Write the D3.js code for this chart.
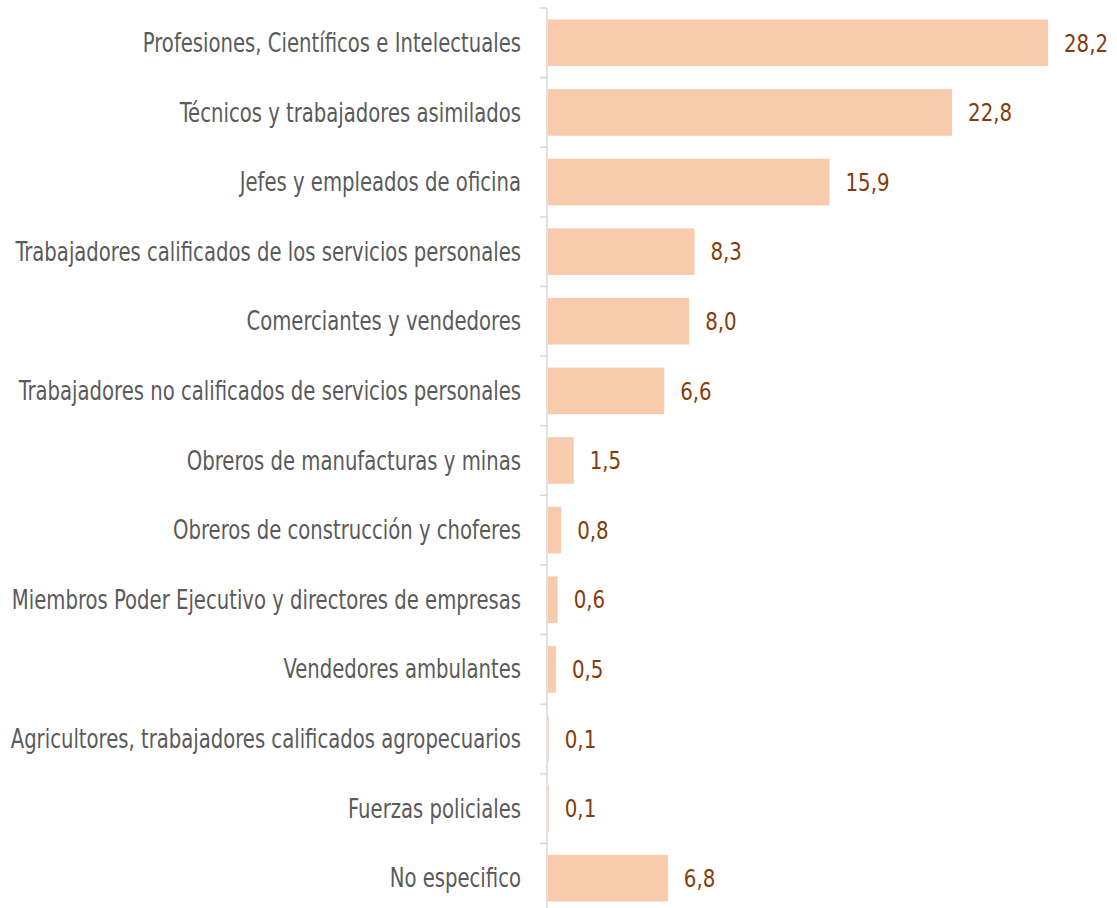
<!DOCTYPE html>
<html>
<head>
<meta charset="utf-8">
<script src="https://cdn.jsdelivr.net/npm/d3@7"></script>
<style>
  body { margin: 0; background: #fff; }
  text { font-family: "Liberation Sans Narrow", "DejaVu Sans Condensed", "Roboto", sans-serif; }
</style>
</head>
<body>
<svg id="chart" width="1117" height="908"></svg>
<script>
const categories = [
    "Profesiones, Científicos e Intelectuales",
    "Técnicos y trabajadores asimilados",
    "Jefes y empleados de oficina",
    "Trabajadores calificados de los servicios personales",
    "Comerciantes y vendedores",
    "Trabajadores no calificados de servicios personales",
    "Obreros de manufacturas y minas",
    "Obreros de construcción y choferes",
    "Miembros Poder Ejecutivo y directores de empresas",
    "Vendedores ambulantes",
    "Agricultores, trabajadores calificados agropecuarios",
    "Fuerzas policiales",
    "No especifico"
];
const values = [28.2, 22.8, 15.9, 8.3, 8.0, 6.6, 1.5, 0.8, 0.6, 0.5, 0.1, 0.1, 6.8];
const valueLabels = ["28,2", "22,8", "15,9", "8,3", "8,0", "6,6", "1,5", "0,8", "0,6", "0,5", "0,1", "0,1", "6,8"];

const svg = d3.select('#chart');
const W = 1117, H = 908;
const margin = {top: 8, left: 547, right: 69};

const y = d3.scaleBand()
    .domain(categories)
    .range([margin.top, 913])
    .paddingInner(0.33)
    .paddingOuter(0.165);

const x = d3.scaleLinear()
    .domain([0, 28.2])
    .range([margin.left, W - margin.right]);

// category boundaries for the small tick marks
const step = y.step();
const bounds = d3.range(categories.length + 1).map(i => margin.top + i * step);

const axis = svg.append('g').attr('class', 'axis');
axis.append('line')
    .attr('x1', margin.left).attr('x2', margin.left)
    .attr('y1', margin.top).attr('y2', H)
    .style('stroke', '#d9d9d9')
    .style('stroke-width', 1.5);
axis.selectAll('line.tick').data(bounds)
    .join('line')
    .attr('class', 'tick')
    .attr('x1', margin.left - 7).attr('x2', margin.left)
    .attr('y1', d => d).attr('y2', d => d)
    .style('stroke', '#d9d9d9')
    .style('stroke-width', 1.5);

svg.append('g').selectAll('rect')
    .data(values)
    .join('rect')
    .attr('x', x(0) + 1)
    .attr('y', (d, i) => y(categories[i]))
    .attr('height', y.bandwidth())
    .attr('width', d => Math.max(0, x(d) - x(0) - 1))
    .attr('fill', '#f8cbad');

svg.append('g').selectAll('text')
    .data(categories)
    .join('text')
    .attr('transform', d => `translate(${margin.left - 26},${y(d) + y.bandwidth() / 2}) scale(0.84,1)`)
    .attr('dy', '0.35em')
    .attr('text-anchor', 'end')
    .style('font-size', '26px')
    .style('fill', '#5a5a5a')
    .text(d => d);

svg.append('g').selectAll('text')
    .data(values)
    .join('text')
    .attr('transform', (d, i) => `translate(${x(d) + 16},${y(categories[i]) + y.bandwidth() / 2}) scale(0.88,1)`)
    .attr('dy', '0.35em')
    .style('font-size', '25px')
    .style('fill', '#843c0c')
    .text((d, i) => valueLabels[i]);
</script>
</body>
</html>
